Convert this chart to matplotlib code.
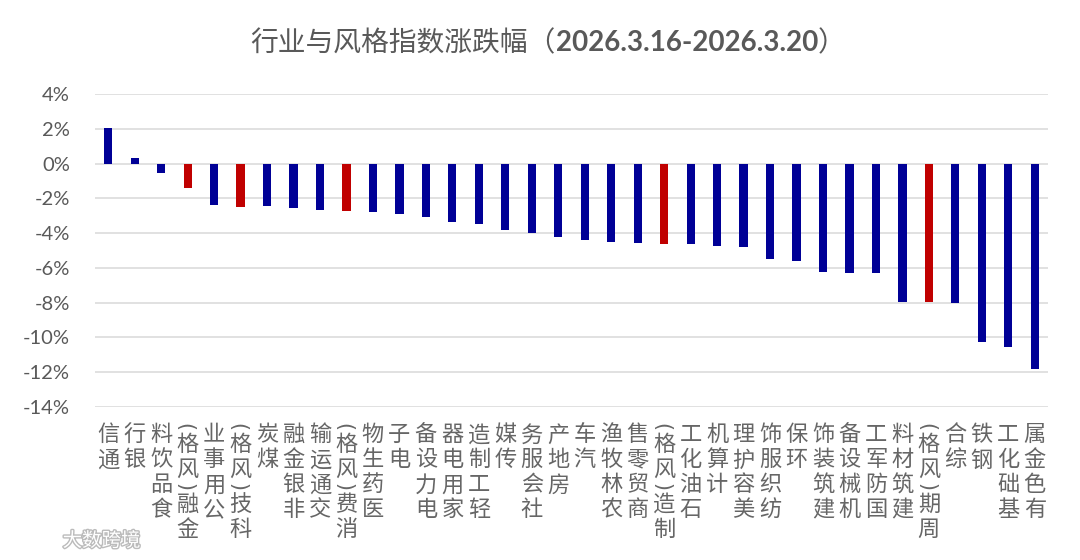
import matplotlib
matplotlib.use("Agg")
import matplotlib.pyplot as plt
import matplotlib.patheffects as pe
from matplotlib.ticker import FuncFormatter

plt.rcParams["font.family"] = ["Noto Sans CJK SC", "DejaVu Sans"]

categories = [
    "通信", "银行", "食品饮料", "金融(风格)", "公用事业", "科技(风格)", "煤炭",
    "非银金融", "交通运输", "消费(风格)", "医药生物", "电子", "电力设备",
    "家用电器", "轻工制造", "传媒", "社会服务", "房地产", "汽车", "农林牧渔",
    "商贸零售", "制造(风格)", "石油化工", "计算机", "美容护理", "纺织服饰",
    "环保", "建筑装饰", "机械设备", "国防军工", "建筑材料", "周期(风格)",
    "综合", "钢铁", "基础化工", "有色金属",
]
# weekly change, %
changes = [
    2.08, 0.33, -0.52, -1.42, -2.36, -2.48, -2.46, -2.57, -2.69, -2.73,
    -2.80, -2.88, -3.09, -3.34, -3.48, -3.82, -4.01, -4.23, -4.42, -4.53,
    -4.57, -4.61, -4.60, -4.74, -4.82, -5.47, -5.61, -6.26, -6.30, -6.30,
    -7.95, -7.99, -8.03, -10.29, -10.54, -11.83,
]
y_ticks = [4, 2, 0, -2, -4, -6, -8, -10, -12, -14]

blue = "#000096"
red = "#C00000"
grey = "#595959"

colors = [red if "风格" in c else blue for c in categories]
values = [v / 100 for v in changes]

fig = plt.figure(figsize=(10.8, 5.6), dpi=100)
ax = fig.add_axes([0.08796, 0.27375, 0.88241, 0.55786])

x = list(range(len(categories)))
ax.bar(x, values, width=0.31, color=colors, linewidth=0, zorder=3)

ax.set_xlim(-0.5, len(categories) - 0.5)
ax.set_ylim(-0.14, 0.04)
ax.set_yticks([t / 100 for t in y_ticks])
ax.yaxis.set_major_formatter(FuncFormatter(lambda v, p: f"{v * 100:.0f}%"))
ax.grid(axis="y", color="#D9D9D9", linewidth=1.1, zorder=0)
ax.tick_params(axis="y", length=0, pad=18, labelsize=14.5, labelcolor=grey)
for lab in ax.get_yticklabels():
    lab.set_fontfamily(["Lato", "DejaVu Sans"])
ax.set_xticks([])
for s in ax.spines.values():
    s.set_visible(False)

# vertical labels: CJK upright, read bottom to top, parens turned sideways
for i, name in enumerate(categories):
    cursor = -9.5
    for ch in reversed(name):
        if ch in "()":
            step = 7
            ax.annotate(ch, xy=(i, 0), xycoords=("data", "axes fraction"),
                        xytext=(0, cursor - step / 2), textcoords="offset points",
                        ha="center", va="center", rotation=90,
                        fontsize=15, color="#666666", family=["DejaVu Sans"])
        else:
            step = 18
            ax.annotate(ch, xy=(i, 0), xycoords=("data", "axes fraction"),
                        xytext=(0, cursor - step / 2), textcoords="offset points",
                        ha="center", va="center_baseline",
                        fontsize=16, color="#666666")
        cursor -= step

# title in three pieces so the dates can be bold
fig.canvas.draw()
renderer = fig.canvas.get_renderer()
parts = [
    ("行业与风格指数涨跌幅（", "normal", ["Noto Sans CJK SC"]),
    ("2026.3.16-2026.3.20", "bold", ["Lato", "Noto Sans CJK SC"]),
    ("）", "normal", ["Noto Sans CJK SC"]),
]
texts = []
for s, w, fam in parts:
    t = fig.text(0, 0.923, s, fontsize=20, fontweight=w, family=fam,
                 color=grey, ha="left", va="center")
    texts.append(t)
widths = [t.get_window_extent(renderer).width for t in texts]
start = (1080 - sum(widths)) / 2 + 8
for t, w in zip(texts, widths):
    t.set_x(start / 1080)
    start += w

# watermark
fig.text(0.058, 0.034, "大数跨境", fontsize=14, color="white", ha="left", va="center",
         path_effects=[pe.withStroke(linewidth=2, foreground="#BBBBBB")])

fig.savefig("out.png", dpi=100)
